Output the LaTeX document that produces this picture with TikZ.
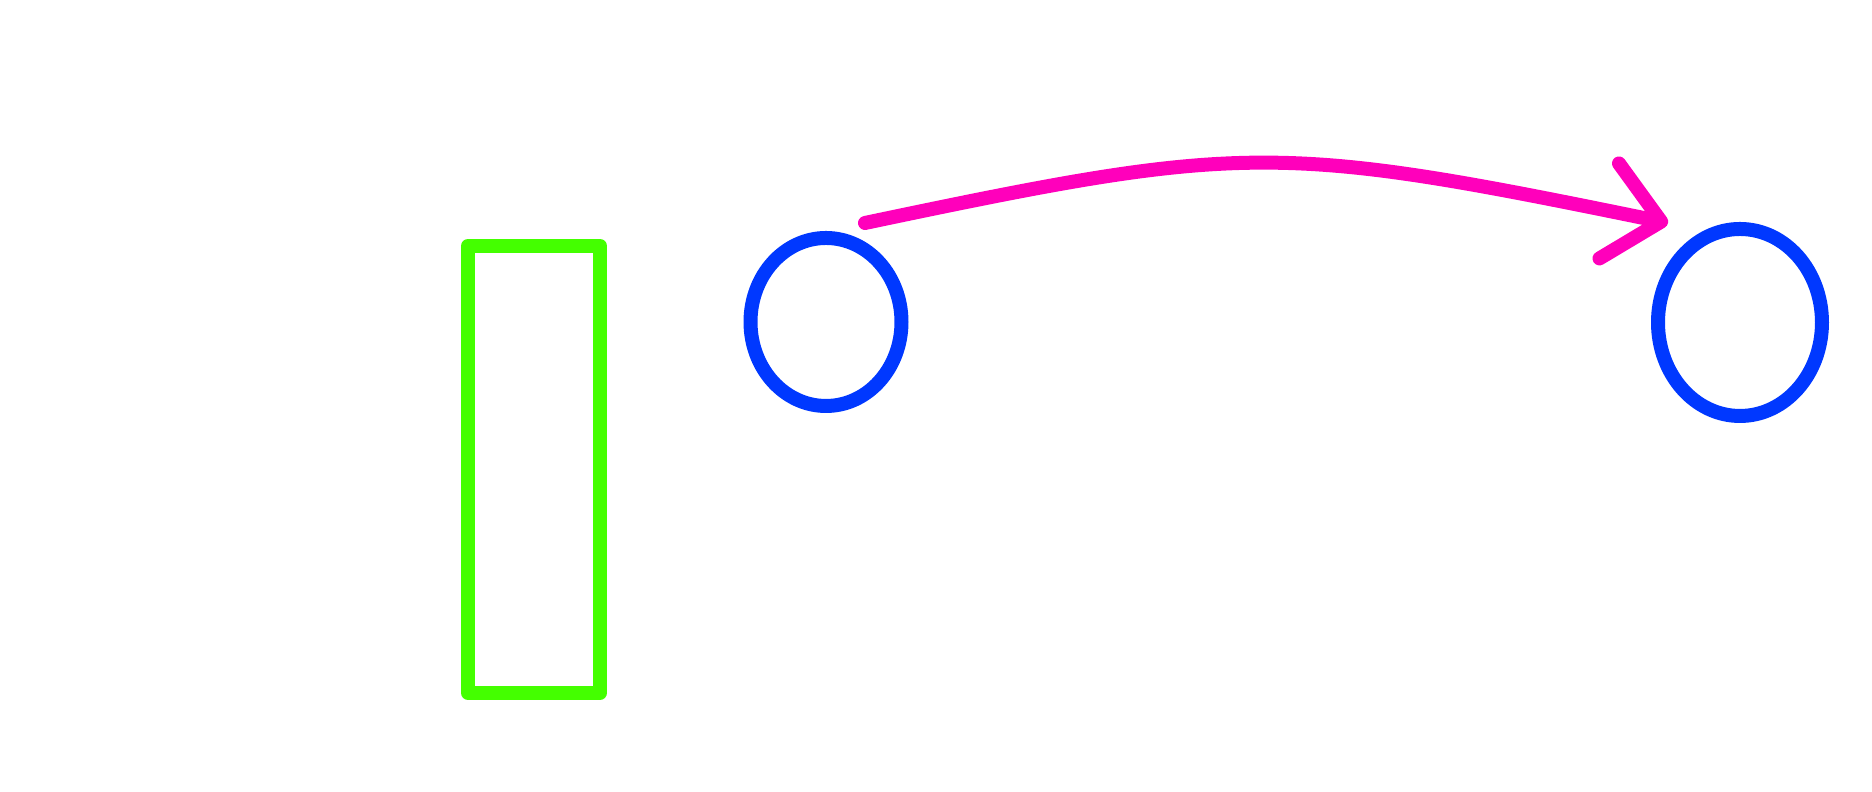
\documentclass[tikz,border=0pt]{standalone}
\usepackage{tikz}
\usetikzlibrary{arrows.meta,shapes.geometric}
\definecolor{boxgreen}{HTML}{44FF00}
\definecolor{ovalblue}{HTML}{0038FF}
\definecolor{arcpink}{HTML}{FF00BB}
\tikzset{
  box/.style={draw=boxgreen, rectangle, inner sep=0pt},
  oval/.style={draw=ovalblue, ellipse, inner sep=0pt},
}

\begin{document}
\begin{tikzpicture}[line width=1.4mm, line join=round, line cap=round]
  \useasboundingbox (0,0) rectangle (18.72,7.92);
  \node[box, minimum width=1.32cm, minimum height=4.47cm] (bar) at (5.34,3.225) {};
  \node[oval, minimum width=1.51cm, minimum height=1.68cm] (left) at (8.26,4.70) {};
  \node[oval, minimum width=1.64cm, minimum height=1.87cm] (right) at (17.40,4.695) {};
  \coordinate (from) at (8.65,5.69);
  \coordinate (to) at (16.68,5.69);
  \draw[arcpink, -{Straight Barb[length=5.3mm, width=9.7mm, round]}]
    (from) .. controls (12.45,6.49) and (12.78,6.49) .. (to);
\end{tikzpicture}
\end{document}
